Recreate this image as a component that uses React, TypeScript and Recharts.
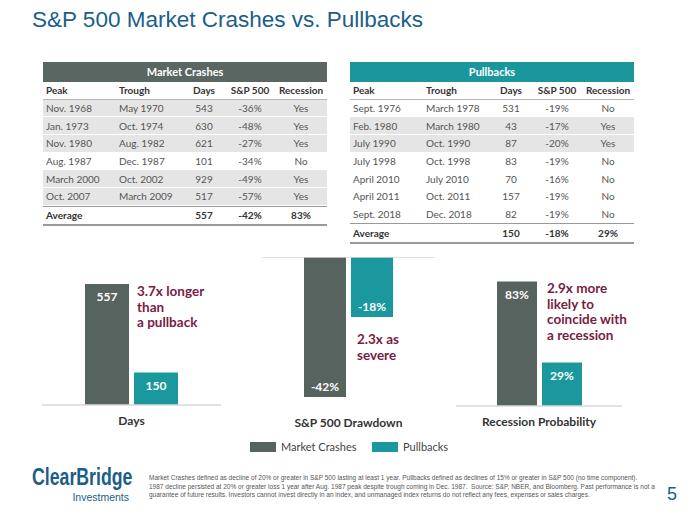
import React from "react";
import { BarChart, Bar, XAxis, YAxis, LabelList, ReferenceLine } from "recharts";

// table data
const crashPeaks = ["Nov. 1968", "Jan. 1973", "Nov. 1980", "Aug. 1987", "March 2000", "Oct. 2007"];
const crashTroughs = ["May 1970", "Oct. 1974", "Aug. 1982", "Dec. 1987", "Oct. 2002", "March 2009"];
const crashDays = [543, 630, 621, 101, 929, 517];
const crashDrawdowns = [-36, -48, -27, -34, -49, -57];
const crashRecession = ["Yes", "Yes", "Yes", "No", "Yes", "Yes"];

const pullPeaks = ["Sept. 1976", "Feb. 1980", "July 1990", "July 1998", "April 2010", "April 2011", "Sept. 2018"];
const pullTroughs = ["March 1978", "March 1980", "Oct. 1990", "Oct. 1998", "July 2010", "Oct. 2011", "Dec. 2018"];
const pullDays = [531, 43, 87, 83, 70, 157, 82];
const pullDrawdowns = [-19, -17, -20, -19, -16, -19, -19];
const pullRecession = ["No", "Yes", "Yes", "No", "No", "No", "No"];

const columnLabels = ["Peak", "Trough", "Days", "S&P 500", "Recession"];

// chart data (averages)
const metricNames = ["Days", "S&P 500 Drawdown", "Recession Probability"];
const crashAverages = [557, -42, 83];
const pullAverages = [150, -18, 29];

const CRASH = "#57635e";
const PULL = "#1b989e";
const MAROON = "#7a1c45";
const BLUE = "#1b5e88";
const FONT = "Lato, 'Open Sans', sans-serif";
const SANS = "'Liberation Sans', Arial, sans-serif";

const pct = (v: number) => `${v}%`;

type TableProps = {
  title: string;
  color: string;
  left: number;
  peaks: string[];
  troughs: string[];
  days: number[];
  drawdowns: number[];
  recession: string[];
  avg: [number, number, number];
};

const colWidths = [73, 67, 42, 50, 52];
const ROW = 17.7;

function DataTable({ title, color, left, peaks, troughs, days, drawdowns, recession, avg }: TableProps) {
  const width = colWidths.reduce((a, b) => a + b, 0);
  const cell = (i: number, content: React.ReactNode, bold = false) => (
    <div
      key={i}
      style={{
        width: colWidths[i],
        textAlign: i < 2 ? "left" : "center",
        paddingLeft: i < 2 ? 3 : 0,
        boxSizing: "border-box",
        fontWeight: bold ? 700 : 400,
        whiteSpace: "nowrap",
      }}
    >
      {content}
    </div>
  );
  return (
    <div style={{ position: "absolute", left, top: 62, width, fontFamily: FONT, fontSize: 10 }}>
      <div style={{ height: 19.5, background: color, color: "#fff", fontWeight: 700, fontSize: 11, display: "flex", alignItems: "center", justifyContent: "center" }}>
        {title}
      </div>
      <div style={{ height: 17, display: "flex", alignItems: "center", color: "#333", borderBottom: "1px solid #b5b5b5" }}>
        {columnLabels.map((c, i) => cell(i, c, true))}
      </div>
      {peaks.map((p, r) => (
        <div key={r} style={{ height: ROW, display: "flex", alignItems: "center", color: "#555", background: recession[r] === "Yes" ? "#e5e5e5" : "#fff", borderBottom: "1.5px solid #fff", boxSizing: "border-box" }}>
          {cell(0, p)}
          {cell(1, troughs[r])}
          {cell(2, days[r])}
          {cell(3, pct(drawdowns[r]))}
          {cell(4, recession[r])}
        </div>
      ))}
      <div style={{ height: ROW, display: "flex", alignItems: "center", color: "#333", borderTop: "1px solid #999", borderBottom: "2px solid #999", boxSizing: "content-box" }}>
        {cell(0, "Average", true)}
        {cell(1, "", true)}
        {cell(2, avg[0], true)}
        {cell(3, pct(avg[1]), true)}
        {cell(4, pct(avg[2]), true)}
      </div>
    </div>
  );
}

const valueLabel = (fmt: (v: number) => string) => (props: any) => {
  const x = Number(props.x), y = Number(props.y), w = Number(props.width), h = Number(props.height);
  const v = Number(props.value);
  const top = Math.min(y, y + h);
  const bottom = Math.max(y, y + h);
  const cy = v < 0 ? bottom - 10.5 : top + 13;
  return (
    <text x={x + w / 2} y={cy} textAnchor="middle" dominantBaseline="central" fill="#fff" fontWeight={700} fontSize={12} fontFamily={FONT}>
      {fmt(v)}
    </text>
  );
};

type MiniProps = {
  idx: number;
  left: number;
  top: number;
  width: number;
  domain: [number, number];
  barSize: number;
  fmt: (v: number) => string;
  zeroLine?: boolean;
};

function MiniChart({ idx, left, top, width, domain, barSize, fmt, zeroLine }: MiniProps) {
  const data = [{ name: metricNames[idx], crash: crashAverages[idx], pull: pullAverages[idx] }];
  return (
    <div style={{ position: "absolute", left, top }}>
      <BarChart width={width} height={180} data={data} margin={{ top: 0, right: 0, bottom: 0, left: 0 }} barGap={5}>
        <YAxis hide domain={domain} type="number" />
        <XAxis
          dataKey="name"
          height={30}
          tickLine={false}
          axisLine={zeroLine ? false : { stroke: "#d9d9d9", strokeWidth: 1.5 }}
          tickMargin={5}
          tick={{ fontSize: 12, fontWeight: 700, fill: "#333", fontFamily: FONT }}
        />
        {zeroLine && <ReferenceLine y={0} stroke="#d9d9d9" strokeWidth={1.5} />}
        <Bar dataKey="crash" fill={CRASH} barSize={barSize} isAnimationActive={false}>
          <LabelList dataKey="crash" content={valueLabel(fmt)} />
        </Bar>
        <Bar dataKey="pull" fill={PULL} barSize={barSize} isAnimationActive={false}>
          <LabelList dataKey="pull" content={valueLabel(fmt)} />
        </Bar>
      </BarChart>
    </div>
  );
}

const noteStyle: React.CSSProperties = {
  position: "absolute",
  color: MAROON,
  fontFamily: FONT,
  fontWeight: 700,
  fontSize: 13.5,
  lineHeight: "15.5px",
  whiteSpace: "nowrap",
};

export default function App() {
  return (
    <div style={{ position: "absolute", left: 0, top: 0, width: 690, height: 517, background: "#fff", overflow: "hidden" }}>
      <div style={{ position: "absolute", left: 32, top: 7, fontFamily: SANS, fontSize: 22.5, color: BLUE, whiteSpace: "nowrap" }}>
        S&amp;P 500 Market Crashes vs. Pullbacks
      </div>

      <DataTable title="Market Crashes" color="#5a6661" left={43} peaks={crashPeaks} troughs={crashTroughs} days={crashDays} drawdowns={crashDrawdowns} recession={crashRecession} avg={[crashAverages[0], crashAverages[1], crashAverages[2]]} />
      <DataTable title="Pullbacks" color="#1a979c" left={350} peaks={pullPeaks} troughs={pullTroughs} days={pullDays} drawdowns={pullDrawdowns} recession={pullRecession} avg={[pullAverages[0], pullAverages[1], pullAverages[2]]} />

      <MiniChart idx={0} left={42} top={255} width={179} domain={[0, 690]} barSize={44} fmt={(v) => `${v}`} />
      <MiniChart idx={1} left={262} top={257} width={173} domain={[-45, 0]} barSize={42} fmt={pct} zeroLine />
      <MiniChart idx={2} left={456} top={256} width={166} domain={[0, 100]} barSize={40} fmt={pct} />

      <div style={{ ...noteStyle, left: 137, top: 284 }}>
        3.7x longer<br />than<br />a pullback
      </div>
      <div style={{ ...noteStyle, left: 357, top: 332 }}>
        2.3x as<br />severe
      </div>
      <div style={{ ...noteStyle, left: 547, top: 281 }}>
        2.9x more<br />likely to<br />coincide with<br />a recession
      </div>

      <div style={{ position: "absolute", left: 250, top: 442, width: 26, height: 10, background: CRASH }} />
      <div style={{ position: "absolute", left: 281, top: 440, fontFamily: FONT, fontSize: 11, color: "#444" }}>Market Crashes</div>
      <div style={{ position: "absolute", left: 372, top: 442, width: 26, height: 10, background: PULL }} />
      <div style={{ position: "absolute", left: 403, top: 440, fontFamily: FONT, fontSize: 11, color: "#444" }}>Pullbacks</div>

      <div style={{ position: "absolute", left: 32, top: 465, fontFamily: SANS, fontWeight: 700, fontSize: 23, lineHeight: "24px", color: BLUE, whiteSpace: "nowrap", transform: "scaleX(0.77)", transformOrigin: "left top" }}>
        ClearBridge
      </div>
      <div style={{ position: "absolute", left: 70, top: 491, width: 59, textAlign: "right", fontFamily: SANS, fontSize: 10.5, lineHeight: "12px", color: BLUE }}>
        Investments
      </div>
      <div style={{ position: "absolute", left: 149, top: 474, fontFamily: SANS, fontSize: 7, lineHeight: "8.6px", color: "#555", whiteSpace: "nowrap", transform: "scaleX(0.93)", transformOrigin: "left top" }}>
        Market Crashes defined as decline of 20% or greater in S&amp;P 500 lasting at least 1 year. Pullbacks defined as declines of 15% or greater in S&amp;P 500 (no time component).
        <br />
        1987 decline persisted at 20% or greater loss 1 year after Aug. 1987 peak despite trough coming in Dec. 1987.&nbsp; Source: S&amp;P, NBER, and Bloomberg. Past performance is not a
        <br />
        guarantee of future results. Investors cannot invest directly in an index, and unmanaged index returns do not reflect any fees, expenses or sales charges.
      </div>
      <div style={{ position: "absolute", left: 667, top: 484, fontFamily: SANS, fontSize: 18, color: BLUE }}>5</div>
    </div>
  );
}
